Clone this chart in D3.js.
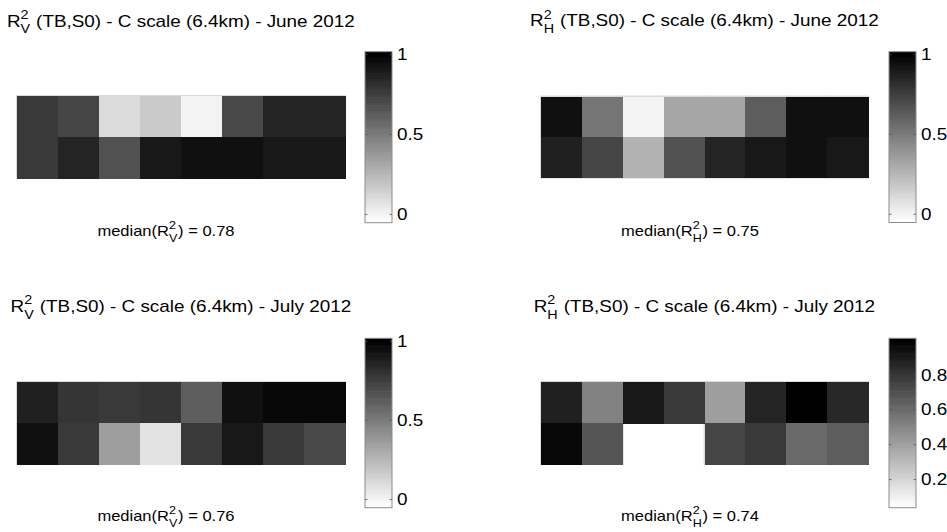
<!DOCTYPE html>
<html>
<head>
<meta charset="utf-8">
<script src="https://cdn.jsdelivr.net/npm/d3@7"></script>
<style>
  body { margin: 0; background: #fff; }
  text { font-family: "Liberation Sans", Arial, Helvetica, sans-serif; fill: #000; white-space: pre; }
</style>
</head>
<body>
<svg id="fig" width="947" height="532"></svg>
<script>
// Grid cells: 8 columns x 2 rows of R² values (null = no data)
const columns = d3.range(1, 9);
const rows = [1, 2];

const juneV = [
  [0.774, 0.720, 0.110, 0.177, 0.009, 0.707, 0.854, 0.854],
  [0.774, 0.850, 0.673, 0.900, 0.934, 0.934, 0.900, 0.900]
];
const juneH = [
  [0.938, 0.530, 0.009, 0.329, 0.329, 0.623, 0.938, 0.938],
  [0.875, 0.716, 0.266, 0.669, 0.850, 0.904, 0.938, 0.900]
];
const julyV = [
  [0.875, 0.791, 0.766, 0.791, 0.623, 0.938, 0.976, 0.976],
  [0.938, 0.770, 0.362, 0.068, 0.774, 0.900, 0.766, 0.707]
];
const julyH = [
  [0.877, 0.512, 0.903, 0.782, 0.405, 0.861, 0.994, 0.846],
  [0.968, 0.675, null, null, 0.740, 0.786, 0.610, 0.648]
];

// Colour limits of each map and colorbar tick labels
const limitsMain = [-0.055, 1.015];
const limitsJulyH = [0.036, 1.006];
const ticksMain = [0, 0.5, 1];
const ticksJulyH = [0.2, 0.4, 0.6, 0.8];

const polarisations = ["V", "H", "V", "H"];
const months = ["June 2012", "June 2012", "July 2012", "July 2012"];
const medians = ["0.78", "0.75", "0.76", "0.74"];

// Layout of the four sub-plots
const panels = [
  { data: juneV, limits: limitsMain, ticks: ticksMain, map: [17, 345, 96, 178], bar: [365, 392, 51.7, 222.7], titleY: 26.5, medX: 166, medY: 236 },
  { data: juneH, limits: limitsMain, ticks: ticksMain, map: [541, 868, 96.5, 177.7], bar: [889, 916, 51.7, 222.5], titleY: 26.2, medX: 690, medY: 236 },
  { data: julyV, limits: limitsMain, ticks: ticksMain, map: [17, 345, 382, 464], bar: [365, 392, 338.3, 507.7], titleY: 312, medX: 166, medY: 521 },
  { data: julyH, limits: limitsJulyH, ticks: ticksJulyH, map: [541, 868, 382, 464], bar: [889, 916, 338.3, 507.7], titleY: 312, medX: 690, medY: 521 }
];

const SX = 1.18;      // horizontal stretch of the lettering
const NCOL = 64;      // number of colormap entries
const grays = d3.range(NCOL).map(i => {
  const g = Math.round(255 * (1 - i / (NCOL - 1)));
  return d3.rgb(g, g, g).formatHex();
});

const svg = d3.select("#fig");

// Text with a stacked superscript "2" and subscript letter after `pre`
function richText(parent, cx, baseline, size, pre, sub, post, anchor) {
  const g = parent.append("g").attr("transform", `translate(${cx},${baseline})`);
  const inner = g.append("g");
  const small = size * 0.76;
  let x = 0;
  const t1 = inner.append("text").attr("x", 0).attr("y", 0).style("font-size", size + "px").text(pre);
  x += t1.node().getComputedTextLength();
  const s1 = inner.append("text").attr("x", x).attr("y", -size * 0.47).style("font-size", small + "px").text("2");
  const s2 = inner.append("text").attr("x", x).attr("y", size * 0.42).style("font-size", small + "px").text(sub);
  x += Math.max(s1.node().getComputedTextLength(), s2.node().getComputedTextLength()) + size * 0.04;
  const t2 = inner.append("text").attr("x", x).attr("y", 0).style("font-size", size + "px").text(post);
  x += t2.node().getComputedTextLength();
  const shift = anchor === "middle" ? -x / 2 : 0;
  inner.attr("transform", `scale(${SX},1) translate(${shift},0)`);
  return g;
}

panels.forEach((p, k) => {
  const g = svg.append("g");
  const [x0, x1, y0, y1] = p.map;

  const xs = d3.scaleBand().domain(columns).range([x0, x1]);
  const ys = d3.scaleBand().domain(rows).range([y0, y1]);
  const color = d3.scaleQuantize().domain(p.limits).range(grays);

  const cells = [];
  p.data.forEach((row, r) => row.forEach((v, c) => {
    if (v !== null) cells.push({ row: rows[r], col: columns[c], v });
  }));

  // faint edge around the drawn cells
  g.append("g").selectAll("rect").data(cells).join("rect")
    .attr("x", d => xs(d.col) - 1)
    .attr("y", d => ys(d.row) - 1)
    .attr("width", xs.bandwidth() + 2)
    .attr("height", ys.bandwidth() + 2)
    .attr("fill", "#dcdcdc");

  g.append("g").selectAll("rect").data(cells).join("rect")
    .attr("x", d => xs(d.col))
    .attr("y", d => ys(d.row))
    .attr("width", xs.bandwidth() + 0.5)
    .attr("height", ys.bandwidth() + 0.5)
    .attr("fill", d => color(d.v))
    .attr("shape-rendering", "crispEdges");

  // colorbar
  const [bx0, bx1, by0, by1] = p.bar;
  const cy = d3.scaleLinear().domain(p.limits).range([by1, by0]);
  const step = (p.limits[1] - p.limits[0]) / NCOL;
  const bands = d3.range(NCOL).map(i => ({ lo: p.limits[0] + i * step, hi: p.limits[0] + (i + 1) * step }));
  g.append("g").selectAll("rect").data(bands).join("rect")
    .attr("x", bx0)
    .attr("width", bx1 - bx0)
    .attr("y", d => cy(d.hi))
    .attr("height", d => cy(d.lo) - cy(d.hi) + 0.6)
    .attr("fill", d => color((d.lo + d.hi) / 2));
  g.append("rect")
    .attr("x", bx0).attr("y", by0)
    .attr("width", bx1 - bx0).attr("height", by1 - by0)
    .attr("fill", "none").attr("stroke", "#8c8c8c").attr("stroke-width", 1);

  const axR = g.append("g").attr("transform", `translate(${bx1},0)`)
    .call(d3.axisRight(cy).tickValues(p.ticks).tickSize(-2.5).tickPadding(0).tickFormat(d3.format("~g")));
  const axL = g.append("g").attr("transform", `translate(${bx0},0)`)
    .call(d3.axisLeft(cy).tickValues(p.ticks).tickSize(-2.5).tickFormat(""));
  [axR, axL].forEach(ax => {
    ax.select(".domain").remove();
    ax.selectAll(".tick line").attr("stroke", "#555").attr("stroke-width", 0.8);
  });
  axR.selectAll(".tick text").remove();
  axR.selectAll(".tick").each(function (d) {
    d3.select(this).append("text")
      .attr("transform", `translate(5,0) scale(${SX},1)`)
      .attr("x", 0).attr("dy", "0.36em")
      .attr("text-anchor", "start")
      .style("font-size", "16px")
      .text(d3.format("~g")(d));
  });

  // title and median annotation
  const cx = (x0 + x1) / 2;
  richText(g, cx, p.titleY, 16, "R", polarisations[k], " (TB,S0) - C scale (6.4km) - " + months[k], "middle");
  richText(g, p.medX, p.medY, 14, "median(R", polarisations[k], ") = " + medians[k], "middle");
});
</script>
</body>
</html>
